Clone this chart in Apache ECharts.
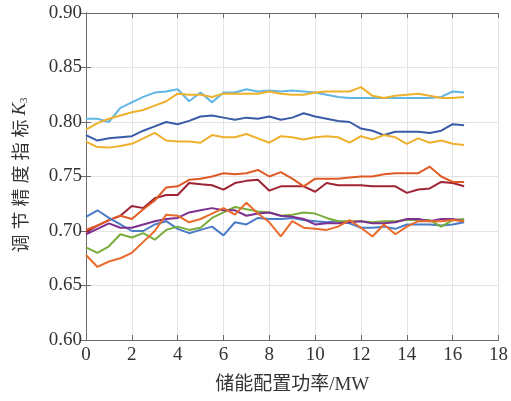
<!DOCTYPE html>
<html><head><meta charset="utf-8">
<script src="https://cdn.jsdelivr.net/npm/echarts@6/dist/echarts.min.js"></script>
<style>html,body{margin:0;padding:0;background:#fff}#c{width:511px;height:401px}</style>
</head><body><div id="c"></div>
<script>
const xValues = [0,0.5,1,1.5,2,2.5,3,3.5,4,4.5,5,5.5,6,6.5,7,7.5,8,8.5,9,9.5,10,10.5,11,11.5,12,12.5,13,13.5,14,14.5,15,15.5,16,16.5];
const xTicks = [0,2,4,6,8,10,12,14,16,18];
const yTicks = [0.60,0.65,0.70,0.75,0.80,0.85,0.90];

const lightBlue = [0.803,0.803,0.800,0.813,0.818,0.823,0.827,0.828,0.830,0.819,0.827,0.818,0.827,0.827,0.830,0.828,0.829,0.828,0.829,0.828,0.827,0.825,0.823,0.822,0.822,0.822,0.822,0.822,0.822,0.822,0.822,0.823,0.828,0.827];
const yellowUpper = [0.793,0.799,0.803,0.806,0.809,0.811,0.815,0.819,0.826,0.825,0.825,0.823,0.826,0.826,0.826,0.826,0.828,0.826,0.825,0.825,0.827,0.828,0.828,0.828,0.832,0.824,0.822,0.824,0.825,0.826,0.824,0.822,0.822,0.823];
const darkBlue = [0.788,0.783,0.785,0.786,0.787,0.792,0.796,0.800,0.798,0.801,0.805,0.806,0.804,0.802,0.804,0.803,0.805,0.802,0.804,0.808,0.805,0.803,0.801,0.800,0.794,0.792,0.788,0.791,0.791,0.791,0.790,0.792,0.798,0.797];
const yellowLower = [0.782,0.777,0.7765,0.778,0.780,0.785,0.790,0.783,0.782,0.782,0.781,0.788,0.786,0.786,0.789,0.785,0.781,0.787,0.786,0.784,0.786,0.787,0.786,0.781,0.787,0.784,0.788,0.786,0.780,0.785,0.781,0.783,0.780,0.779];
const orangeUpper = [0.701,0.705,0.710,0.714,0.711,0.720,0.728,0.740,0.741,0.747,0.748,0.750,0.753,0.752,0.753,0.756,0.750,0.754,0.748,0.741,0.748,0.748,0.748,0.749,0.750,0.750,0.752,0.753,0.753,0.753,0.759,0.750,0.745,0.745];
const darkRed = [0.699,0.705,0.710,0.714,0.723,0.721,0.730,0.733,0.733,0.744,0.743,0.742,0.738,0.744,0.746,0.747,0.737,0.741,0.741,0.741,0.736,0.744,0.742,0.742,0.742,0.741,0.741,0.741,0.735,0.738,0.739,0.745,0.744,0.741];
const blueLower = [0.713,0.719,0.712,0.706,0.700,0.700,0.706,0.709,0.702,0.698,0.701,0.704,0.696,0.708,0.706,0.712,0.711,0.711,0.712,0.710,0.709,0.708,0.709,0.707,0.703,0.703,0.704,0.702,0.706,0.706,0.706,0.705,0.706,0.708];
const purple = [0.697,0.702,0.707,0.703,0.703,0.706,0.709,0.711,0.712,0.717,0.719,0.721,0.719,0.719,0.714,0.716,0.717,0.714,0.713,0.711,0.706,0.707,0.707,0.708,0.709,0.707,0.707,0.708,0.711,0.711,0.709,0.711,0.711,0.709];
const green = [0.685,0.680,0.686,0.697,0.694,0.698,0.692,0.701,0.704,0.701,0.703,0.712,0.717,0.722,0.720,0.718,0.717,0.714,0.715,0.717,0.716,0.712,0.709,0.709,0.709,0.708,0.709,0.709,0.710,0.710,0.710,0.704,0.710,0.711];
const orangeLower = [0.678,0.667,0.672,0.675,0.680,0.690,0.700,0.715,0.714,0.708,0.711,0.716,0.721,0.715,0.726,0.716,0.708,0.695,0.709,0.703,0.702,0.701,0.704,0.710,0.703,0.695,0.706,0.697,0.704,0.709,0.709,0.709,0.710,0.709];

const seriesDefs = [
  {name:'lightBlue', data:lightBlue, color:'#62b6e4'},
  {name:'darkBlue', data:darkBlue, color:'#3a5ba6'},
  {name:'yellowLower', data:yellowLower, color:'#eeb12d'},
  {name:'yellowUpper', data:yellowUpper, color:'#eeb12d'},
  {name:'darkRed', data:darkRed, color:'#9e2435'},
  {name:'orangeUpper', data:orangeUpper, color:'#e05a26'},
  {name:'blueLower', data:blueLower, color:'#4a7cc8'},
  {name:'green', data:green, color:'#79ad3a'},
  {name:'purple', data:purple, color:'#7e3090'},
  {name:'orangeLower', data:orangeLower, color:'#ea6c2c'}
];

const serif = 'Liberation Serif, Times New Roman, Noto Sans CJK SC, serif';
const axisLineStyle = {color:'#6b6b6b', width:1};
const yTitleChars = ['调','节','精','度','指','标'];

const chart = echarts.init(document.getElementById('c'));
chart.setOption({
  backgroundColor:'#ffffff',
  animation:false,
  grid:{left:86, right:11, top:13, bottom:61, containLabel:false},
  xAxis:[{
    type:'value', min:xTicks[0], max:xTicks[xTicks.length-1], interval:2,
    name:'储能配置功率/MW', nameLocation:'middle', nameGap:36,
    nameTextStyle:{fontFamily:serif, fontSize:19, color:'#333'},
    axisLine:{show:true, lineStyle:axisLineStyle},
    axisTick:{show:true, inside:true, length:5, lineStyle:axisLineStyle},
    axisLabel:{fontFamily:serif, fontSize:19, color:'#333', margin:6},
    splitLine:{show:true, lineStyle:{color:'#e4e4e4', width:1}}
  },{
    type:'value', position:'top', min:0, max:18, interval:2,
    axisLine:{show:true, lineStyle:axisLineStyle},
    axisTick:{show:true, inside:true, length:5, lineStyle:axisLineStyle},
    axisLabel:{show:false}, splitLine:{show:false}
  }],
  yAxis:[{
    type:'value', min:yTicks[0], max:yTicks[yTicks.length-1], interval:0.05,
    name: yTitleChars.map(c=>'{a|'+c+'}').join('') + '{k|K}{s|3}',
    nameLocation:'middle', nameGap:56, nameRotate:90,
    nameTextStyle:{
      rich:{
        a:{fontFamily:'Noto Sans CJK SC', fontSize:18, color:'#333', padding:[0,2,0,3]},
        k:{fontFamily:serif, fontStyle:'italic', fontSize:19, color:'#333', padding:[0,0,0,2]},
        s:{fontFamily:serif, fontSize:11, color:'#333', verticalAlign:'bottom', padding:[8,0,0,0]}
      }
    },
    axisLine:{show:true, lineStyle:axisLineStyle},
    axisTick:{show:true, inside:true, length:5, lineStyle:axisLineStyle},
    axisLabel:{fontFamily:serif, fontSize:19, color:'#333', margin:4, formatter:v=>v.toFixed(2)},
    splitLine:{show:true, lineStyle:{color:'#e4e4e4', width:1}}
  },{
    type:'value', position:'right', min:0.6, max:0.9, interval:0.05,
    axisLine:{show:true, lineStyle:axisLineStyle},
    axisTick:{show:true, inside:true, length:5, lineStyle:axisLineStyle},
    axisLabel:{show:false}, splitLine:{show:false}
  }],
  series: seriesDefs.map(s=>({
    name:s.name, type:'line', showSymbol:false, symbol:'none',
    data: xValues.map((x,i)=>[x, s.data[i]]),
    lineStyle:{color:s.color, width:2}, itemStyle:{color:s.color}
  }))
});
</script></body></html>
